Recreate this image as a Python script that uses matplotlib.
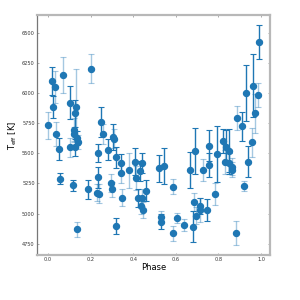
import matplotlib
matplotlib.use("Agg")
import matplotlib.pyplot as plt
import numpy as np

# Phase, Teff, error, style (1 = dark error bar, 0 = light)
phase = [0.001, 0.020, 0.033, 0.023, 0.036, 0.053, 0.058, 0.070, 0.105, 0.103,
         0.119, 0.122, 0.123, 0.127, 0.131, 0.127, 0.135, 0.139, 0.135, 0.189,
         0.200, 0.233, 0.236, 0.232, 0.241, 0.247, 0.257, 0.283, 0.296, 0.302,
         0.307, 0.310, 0.319, 0.319, 0.343, 0.343, 0.349, 0.380, 0.408, 0.412,
         0.421, 0.432, 0.440, 0.440, 0.437, 0.445, 0.460, 0.521, 0.546, 0.532,
         0.532, 0.587, 0.588, 0.604, 0.638, 0.667, 0.682, 0.687, 0.692, 0.693,
         0.714, 0.714, 0.728, 0.745, 0.754, 0.757, 0.782, 0.792, 0.823, 0.831,
         0.834, 0.850, 0.851, 0.862, 0.862, 0.883, 0.889, 0.911, 0.920, 0.931,
         0.940, 0.958, 0.964, 0.973, 0.984, 0.992]
teff = [5730, 6100, 6050, 5880, 5660, 5535, 5290, 6150, 5920, 5550,
        5235, 5660, 5690, 5830, 5880, 5550, 5625, 5595, 4870, 5200,
        6200, 5500, 5300, 5173, 5165, 5760, 5660, 5530, 5250, 5200,
        5635, 5620, 5465, 4900, 5420, 5333, 5131, 5361, 5430, 5292,
        5131, 5353, 5421, 5131, 5060, 5030, 5190, 5375, 5394, 4974,
        4933, 5223, 4836, 4962, 4902, 5361, 4891, 5093, 5521, 4982,
        5063, 5030, 5361, 5030, 5562, 5402, 5162, 5493, 5599, 5430,
        5549, 5521, 5416, 5388, 5365, 4842, 5789, 5722, 5231, 6000,
        5430, 5590, 6059, 5830, 5980, 6419]
terr = [110, 115, 135, 90, 100, 90, 45, 150, 140, 80,
        45, 60, 100, 110, 320, 70, 60, 60, 60, 80,
        120, 75, 90, 70, 80, 125, 80, 90, 75, 60,
        110, 80, 90, 65, 75, 80, 70, 145, 110, 100,
        75, 80, 85, 70, 60, 65, 85, 110, 150, 50,
        60, 60, 60, 40, 50, 150, 130, 75, 190, 70,
        70, 100, 95, 90, 130, 100, 90, 230, 100, 100,
        140, 180, 90, 70, 60, 100, 100, 120, 40, 230,
        130, 120, 260, 160, 100, 140]
dark = [0, 1, 0, 1, 0, 1, 1, 0, 1, 0,
        1, 0, 0, 1, 0, 1, 1, 0, 0, 1,
        0, 1, 1, 0, 0, 1, 0, 1, 0, 0,
        1, 0, 1, 1, 1, 0, 0, 0, 1, 0,
        1, 1, 1, 0, 0, 0, 1, 1, 1, 0,
        1, 0, 0, 0, 0, 1, 1, 0, 1, 0,
        1, 0, 0, 1, 1, 1, 0, 1, 1, 0,
        1, 1, 1, 0, 0, 0, 0, 1, 0, 1,
        1, 0, 1, 0, 0, 1]

yticks = [4750, 5000, 5250, 5500, 5750, 6000, 6250, 6500]
xticks = [0.0, 0.2, 0.4, 0.6, 0.8, 1.0]

ph = np.array(phase); T = np.array(teff); E = np.array(terr); D = np.array(dark, bool)

fig = plt.figure(figsize=(3, 3), dpi=100)
ax = fig.add_axes([0.123, 0.15, 0.777, 0.80])
col = '#1f77b4'
for mask, a in [(~D, 0.4), (D, 1.0)]:
    ax.errorbar(ph[mask], T[mask], yerr=E[mask], fmt='none', ecolor=col,
                elinewidth=1.0, capsize=2, capthick=0.8, alpha=a)
ax.plot(ph, T, 'o', color=col, markersize=4.3, zorder=3)

ax.set_xlim(-0.052, 1.042)
ax.set_ylim(4657, 6645)
ax.set_xticks(xticks)
ax.set_yticks(yticks)
ax.tick_params(direction='in', length=1.5, width=0.5, color='#888888',
               labelsize=3.6, labelcolor='#333333', top=True, right=True, pad=1.5)
for s in ['top', 'right', 'bottom']:
    ax.spines[s].set_color('#b8b8b8')
    ax.spines[s].set_linewidth(1.6)
ax.spines['left'].set_color('#777777')
ax.spines['left'].set_linewidth(0.9)
ax.set_xlabel('Phase', fontsize=6, labelpad=1)
ax.set_ylabel(r'T$_{\rm eff}$ [K]', fontsize=6, labelpad=2)
fig.savefig('out.png', dpi=100)
